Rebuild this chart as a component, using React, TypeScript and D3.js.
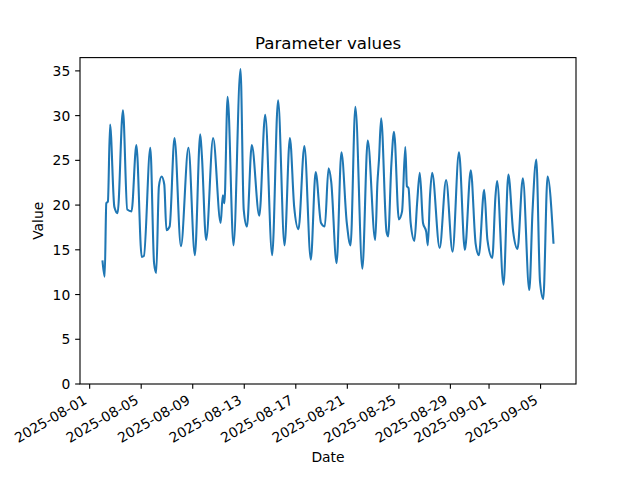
import React from "react";
import * as d3 from "d3";

const timestamps: string[] = [
  "2025-08-02T00:00", "2025-08-02T04:00", "2025-08-02T07:00", "2025-08-02T10:00", "2025-08-02T14:00",
  "2025-08-02T22:00", "2025-08-03T04:00", "2025-08-03T14:00", "2025-08-03T22:00", "2025-08-04T06:00",
  "2025-08-04T15:00", "2025-08-05T01:00", "2025-08-05T05:00", "2025-08-05T17:00", "2025-08-06T00:00",
  "2025-08-06T04:00", "2025-08-06T09:00", "2025-08-06T14:00", "2025-08-06T19:00", "2025-08-06T23:00",
  "2025-08-07T05:00", "2025-08-07T14:00", "2025-08-08T02:00", "2025-08-08T16:00", "2025-08-09T04:00",
  "2025-08-09T14:00", "2025-08-09T17:00", "2025-08-10T01:00", "2025-08-10T14:00", "2025-08-11T04:00",
  "2025-08-11T08:00", "2025-08-11T11:00", "2025-08-11T17:00", "2025-08-12T04:00", "2025-08-12T17:00",
  "2025-08-12T23:00", "2025-08-13T05:00", "2025-08-13T14:00", "2025-08-14T04:00", "2025-08-14T15:00",
  "2025-08-15T04:00", "2025-08-15T15:00", "2025-08-16T03:00", "2025-08-16T13:00", "2025-08-16T21:00",
  "2025-08-17T05:00", "2025-08-17T16:00", "2025-08-18T04:00", "2025-08-18T13:00", "2025-08-18T23:00",
  "2025-08-19T06:00", "2025-08-19T13:00", "2025-08-19T18:00", "2025-08-20T04:00", "2025-08-20T13:00",
  "2025-08-20T23:00", "2025-08-21T06:00", "2025-08-21T15:00", "2025-08-22T04:00", "2025-08-22T14:00",
  "2025-08-23T04:00", "2025-08-23T08:00", "2025-08-23T11:00", "2025-08-23T15:00", "2025-08-24T01:00",
  "2025-08-24T04:00", "2025-08-24T10:00", "2025-08-24T15:00", "2025-08-25T00:00", "2025-08-25T06:00",
  "2025-08-25T12:00", "2025-08-25T15:00", "2025-08-25T18:00", "2025-08-25T22:00", "2025-08-26T05:00",
  "2025-08-26T10:00", "2025-08-26T15:00", "2025-08-26T21:00", "2025-08-27T03:00", "2025-08-27T06:00",
  "2025-08-27T10:00", "2025-08-27T14:00", "2025-08-28T04:00", "2025-08-28T16:00", "2025-08-29T04:00",
  "2025-08-29T16:00", "2025-08-30T03:00", "2025-08-30T14:00", "2025-08-30T23:00", "2025-08-31T05:00",
  "2025-08-31T15:00", "2025-08-31T21:00", "2025-09-01T06:00", "2025-09-01T12:00", "2025-09-01T15:00",
  "2025-09-02T03:00", "2025-09-02T12:00", "2025-09-02T21:00", "2025-09-03T05:00", "2025-09-03T15:00",
  "2025-09-04T03:00", "2025-09-04T09:00", "2025-09-04T16:00", "2025-09-04T23:00", "2025-09-05T05:00",
  "2025-09-05T13:00", "2025-09-06T00:00",
];

const values: number[] = [
  13.7, 12.0, 20.2, 20.4, 29.0,
  19.8, 19.1, 30.6, 19.5, 19.3,
  26.7, 14.2, 14.3, 26.4, 13.5,
  12.4, 22.1, 23.2, 22.3, 17.2,
  17.6, 27.5, 15.4, 26.4, 14.4,
  27.9, 25.6, 16.1, 27.5, 18.0,
  21.1, 20.2, 32.1, 15.5, 35.2,
  19.5, 17.6, 26.7, 18.8, 30.1,
  14.4, 31.7, 15.5, 27.5, 19.8,
  17.3, 26.6, 13.9, 23.7, 18.0,
  17.6, 24.1, 22.6, 13.5, 25.9,
  18.0, 15.5, 31.0, 12.9, 27.2,
  16.1, 22.4, 25.1, 29.7, 17.0,
  16.5, 24.5, 28.2, 18.4, 19.3,
  26.5, 22.1, 21.9, 18.0, 16.0,
  20.2, 23.6, 18.0, 17.0, 15.5,
  21.0, 23.6, 15.2, 22.8, 14.8,
  25.9, 15.0, 23.9, 15.7, 14.4,
  21.7, 16.1, 14.1, 21.0, 22.7,
  11.1, 23.4, 17.0, 15.1, 23.0,
  10.5, 19.3, 25.1, 11.4, 9.5,
  23.2, 15.8,
];

const xTickLabels: string[] = [
  "2025-08-01", "2025-08-05", "2025-08-09", "2025-08-13", "2025-08-17",
  "2025-08-21", "2025-08-25", "2025-08-29", "2025-09-01", "2025-09-05",
];
const yTicks: number[] = [0, 5, 10, 15, 20, 25, 30, 35];

const W = 640;
const H = 480;
const left = 80;
const right = 576;
const top = 57.6;
const bottom = 384;
const PT = 100 / 72;
const FONT = "DejaVu Sans, sans-serif";
const FS = 10 * PT;

export default function App() {
  const parse = d3.timeParse("%Y-%m-%dT%H:%M");
  const data = timestamps.map((t, i) => ({ t: parse(t) as Date, v: values[i] }));
  const tExt = d3.extent(data, (d) => d.t) as [Date, Date];
  const span = +tExt[1] - +tExt[0];
  const x = d3
    .scaleTime()
    .domain([new Date(+tExt[0] - span * 0.05), new Date(+tExt[1] + span * 0.05)])
    .range([left, right]);
  const vMin = d3.min(values) as number;
  const vMax = d3.max(values) as number;
  const y = d3
    .scaleLinear()
    .domain([0, vMax + (vMax - vMin) * 0.05])
    .range([bottom, top]);
  const line = d3
    .line<{ t: Date; v: number }>()
    .x((d) => x(d.t))
    .y((d) => y(d.v))
    .curve(d3.curveMonotoneX);
  const dayParse = d3.timeParse("%Y-%m-%d");
  const tickLen = 3.5 * PT;
  const pad = 3.5 * PT;
  const asc = 0.76 * FS;
  const desc = 0.24 * FS;

  return (
    <svg
      width={W}
      height={H}
      style={{ position: "absolute", left: 0, top: 0, background: "#fff" }}
      fontFamily={FONT}
    >
      <rect x={0} y={0} width={W} height={H} fill="#fff" />
      <path d={line(data) || ""} fill="none" stroke="#1f77b4" strokeWidth={1.5 * PT} strokeLinejoin="round" strokeLinecap="square" />
      <rect x={left} y={top} width={right - left} height={bottom - top} fill="none" stroke="#000" strokeWidth={0.8 * PT} />
      {yTicks.map((t) => (
        <g key={t}>
          <line x1={left - tickLen} x2={left} y1={y(t)} y2={y(t)} stroke="#000" strokeWidth={0.8 * PT} />
          <text x={left - tickLen - pad} y={y(t)} dy="0.36em" textAnchor="end" fontSize={FS} fill="#000">
            {t}
          </text>
        </g>
      ))}
      {xTickLabels.map((s) => {
        const px = x(dayParse(s) as Date);
        return (
          <g key={s}>
            <line x1={px} x2={px} y1={bottom} y2={bottom + tickLen} stroke="#000" strokeWidth={0.8 * PT} />
            <text
              transform={`translate(${px - 0.5 * desc},${bottom + tickLen + pad + 0.866 * asc}) rotate(-30)`}
              textAnchor="end"
              fontSize={FS}
              fill="#000"
            >
              {s}
            </text>
          </g>
        );
      })}
      <text x={(left + right) / 2} y={top - 6 * PT} textAnchor="middle" fontSize={12 * PT} fill="#000">
        Parameter values
      </text>
      <text x={(left + right) / 2} y={462} textAnchor="middle" fontSize={FS} fill="#000">
        Date
      </text>
      <text
        transform={`translate(43,${(top + bottom) / 2}) rotate(-90)`}
        textAnchor="middle"
        fontSize={FS}
        fill="#000"
      >
        Value
      </text>
    </svg>
  );
}
